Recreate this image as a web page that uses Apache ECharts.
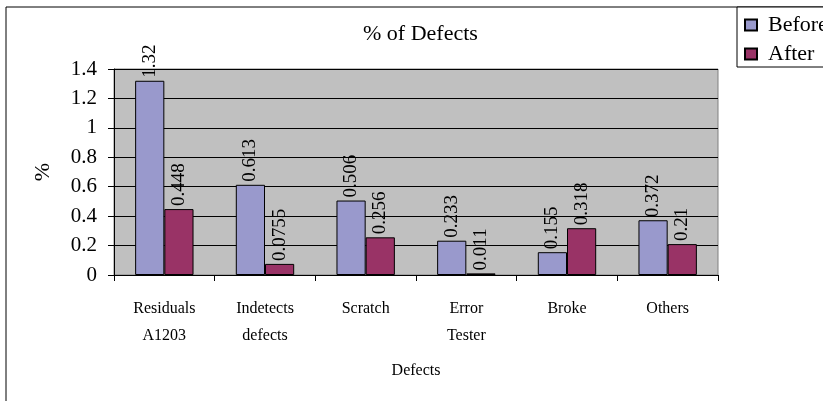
<!DOCTYPE html>
<html>
<head>
<meta charset="utf-8">
<script src="https://cdn.jsdelivr.net/npm/echarts@6/dist/echarts.min.js"></script>
<style>
  html, body { margin: 0; padding: 0; background: #fff; }
  #chart { width: 823px; height: 401px; }
</style>
</head>
<body>
<div id="chart"></div>
<script>
const categories = ["Residuals\nA1203", "Indetects\ndefects", "Scratch", "Error\nTester", "Broke", "Others"];
const beforeValues = [1.32, 0.613, 0.506, 0.233, 0.155, 0.372];
const afterValues = [0.448, 0.0755, 0.256, 0.011, 0.318, 0.21];

const serif = "Liberation Serif";
const chart = echarts.init(document.getElementById("chart"));

const barLabel = {
  show: true,
  position: "top",
  rotate: 90,
  align: "left",
  verticalAlign: "middle",
  distance: 3,
  fontFamily: serif,
  fontSize: 19,
  color: "#000",
};

const option = {
  animation: false,
  textStyle: { fontFamily: serif, color: "#000" },
  graphic: [
    {
      type: "rect",
      shape: { x: 6, y: 7, width: 900, height: 500 },
      style: { fill: "none", stroke: "#000", lineWidth: 1 },
      silent: true,
      z: -10,
    },
    {
      type: "rect",
      shape: { x: 737, y: 7, width: 120, height: 60 },
      style: { fill: "#fff", stroke: "#000", lineWidth: 1 },
      silent: true,
      z: 5,
    },
  ],
  title: {
    text: "% of Defects",
    left: 358,
    top: 18,
    textStyle: { fontFamily: serif, fontSize: 22, fontWeight: "normal", color: "#000" },
  },
  legend: {
    orient: "vertical",
    left: 744,
    top: 14,
    padding: 0,
    itemWidth: 12,
    itemHeight: 11,
    itemGap: 7,
    icon: "rect",
    z: 10,
    textStyle: { fontFamily: serif, fontSize: 22, color: "#000", padding: [0, 0, 0, 6] },
    data: ["Before", "After"],
  },
  grid: {
    left: 114,
    right: 105,
    top: 69,
    bottom: 126,
    show: true,
    backgroundColor: "#c0c0c0",
    borderColor: "#808080",
    borderWidth: 1,
  },
  xAxis: {
    type: "category",
    data: categories,
    name: "Defects",
    nameLocation: "middle",
    nameGap: 88,
    nameTextStyle: { fontFamily: serif, fontSize: 16, color: "#000" },
    axisLine: { lineStyle: { color: "#000", width: 1 } },
    axisTick: { show: true, alignWithLabel: false, length: 6, lineStyle: { color: "#000" } },
    axisLabel: {
      margin: 20,
      fontFamily: serif,
      fontSize: 16,
      lineHeight: 27,
      color: "#000",
      interval: 0,
    },
  },
  yAxis: {
    type: "value",
    min: 0,
    max: 1.4,
    interval: 0.2,
    name: "%",
    nameLocation: "middle",
    nameGap: 60,
    nameTextStyle: { fontFamily: serif, fontSize: 22, color: "#000" },
    axisLine: { show: true, lineStyle: { color: "#000", width: 1 } },
    axisTick: { show: true, length: 6, lineStyle: { color: "#000" } },
    axisLabel: { margin: 17, fontFamily: serif, fontSize: 21, color: "#000" },
    splitLine: { show: true, lineStyle: { color: "#000", width: 1 } },
  },
  series: [
    {
      name: "Before",
      type: "bar",
      data: beforeValues,
      barGap: "0%",
      barCategoryGap: "42%",
      itemStyle: { color: "#9999cc", borderColor: "#000", borderWidth: 1 },
      label: barLabel,
    },
    {
      name: "After",
      type: "bar",
      data: afterValues,
      barGap: "0%",
      barCategoryGap: "42%",
      itemStyle: { color: "#993366", borderColor: "#000", borderWidth: 1 },
      label: barLabel,
    },
  ],
};

chart.setOption(option);
window.addEventListener("resize", function () {
  chart.resize();
});
</script>
</body>
</html>
